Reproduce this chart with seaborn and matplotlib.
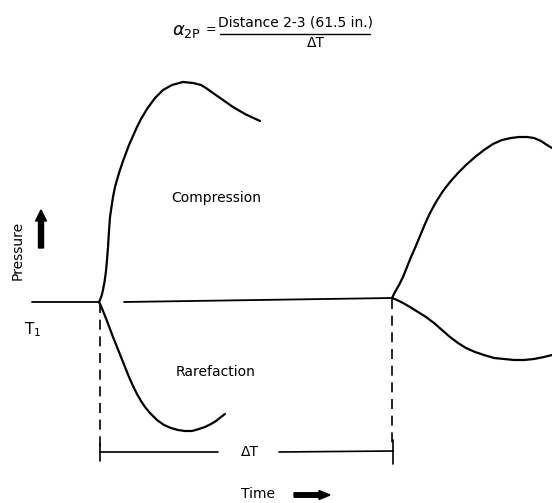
import numpy as np
import pandas as pd
import matplotlib.pyplot as plt
import seaborn as sns

sns.set_style("white")
plt.rcParams['font.family'] = ['DejaVu Sans']
plt.rcParams['text.color'] = 'black'

# curve points (pixel coords, y grows downward)
comp1_x = [99, 100, 101.5, 103, 104.5, 106, 107, 108, 109, 110, 111.5, 113, 115, 117, 119, 121, 123, 126, 129, 133, 137, 141, 147, 155, 163, 172, 183, 193, 201, 206, 213, 223, 233, 245, 260]
comp1_y = [302, 300, 296, 290, 282, 271, 260, 247, 231, 217, 207, 197, 187, 180, 173, 167, 161, 153, 145, 136, 127, 119, 109, 98, 90, 85, 82, 83, 85, 88, 93, 100, 107, 114, 121]

rare1_x = [99, 101, 103, 105, 107, 110, 113, 117, 121, 125, 129, 133, 137, 141, 145, 150, 157, 164, 171, 178, 185, 192, 199, 205, 211, 216, 221, 225]
rare1_y = [302, 306, 311, 316, 321, 329, 337, 347, 357, 367, 377, 386, 394, 401, 407, 413, 420, 425, 428, 430, 431, 431, 429, 427, 424, 421, 417, 414]

comp2_x = [392, 395, 399, 403, 407, 411, 415, 420, 425, 430, 436, 443, 450, 458, 466, 475, 484, 493, 502, 511, 519, 527, 534, 541, 547, 552]
comp2_y = [298, 292, 285, 277, 267, 257, 248, 236, 224, 213, 202, 191, 182, 173, 165, 157, 150, 144, 140, 138, 137, 137, 138, 141, 145, 148]

rare2_x = [392, 397, 403, 410, 418, 426, 434, 442, 450, 458, 466, 475, 484, 494, 504, 514, 524, 534, 544, 552]
rare2_y = [298, 300, 303, 307, 312, 317, 323, 330, 337, 343, 348, 352, 355, 358, 359, 360, 360, 359, 357, 355]

base_x = [32, 99]
base_y = [302, 302]
mid_x = [124, 392]
mid_y = [302, 298]

fig = plt.figure(figsize=(5.52, 5.03), dpi=100)
ax = fig.add_axes([0, 0, 1, 1])

for xs, ys, w in [(comp1_x, comp1_y, 1.6), (rare1_x, rare1_y, 1.6),
                  (comp2_x, comp2_y, 1.6), (rare2_x, rare2_y, 1.6),
                  (base_x, base_y, 1.3), (mid_x, mid_y, 1.3)]:
    sns.lineplot(x=xs, y=ys, sort=False, estimator=None, color='black', lw=w, ax=ax)

# dashed verticals and delta-T bracket
ax.plot([100, 100], [303, 448], color='black', lw=1.2, ls=(0, (6, 4)))
ax.plot([392, 392], [299, 448], color='black', lw=1.2, ls=(0, (6, 4)))
ax.plot([100, 100], [444, 461], color='black', lw=1.2)
ax.plot([393, 393], [440, 464], color='black', lw=1.2)
ax.plot([100, 218], [452, 452], color='black', lw=1.2)
ax.plot([279, 393], [452, 451], color='black', lw=1.2)
ax.text(250, 452, 'ΔT', ha='center', va='center', fontsize=10)

# labels
ax.text(216, 198, 'Compression', ha='center', va='center', fontsize=10)
ax.text(216, 372, 'Rarefaction', ha='center', va='center', fontsize=10)
ax.text(18, 250, 'Pressure', ha='center', va='center', fontsize=10, rotation=90)
ax.text(24, 330, 'T$_1$', ha='left', va='center', fontsize=11)
ax.text(258, 494, 'Time', ha='center', va='center', fontsize=10)

ax.arrow(41, 248, 0, -38, width=5, head_width=11, head_length=11,
         length_includes_head=True, color='black')
ax.arrow(294, 495, 36, 0, width=4.5, head_width=9, head_length=11,
         length_includes_head=True, color='black')

# formula
ax.text(172, 31, r'$\alpha_{\mathrm{2P}}$', ha='left', va='center', fontsize=13)
ax.text(206, 30, '=', ha='left', va='center', fontsize=9)
ax.text(295, 22, 'Distance 2-3 (61.5 in.)', ha='center', va='center', fontsize=10)
ax.plot([220, 370], [34, 34], color='black', lw=1.0)
ax.text(316, 43, 'ΔT', ha='center', va='center', fontsize=10)

ax.set_xlim(0, 552)
ax.set_ylim(503, 0)
ax.axis('off')
fig.savefig('out.png', dpi=100)
